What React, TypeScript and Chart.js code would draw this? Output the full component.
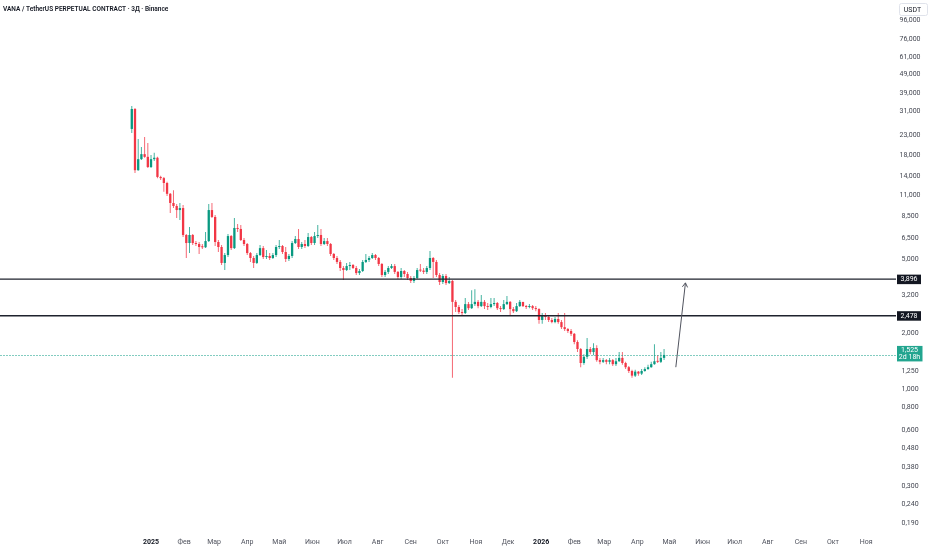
import { useEffect, useRef } from "react";
import { Chart, registerables } from "chart.js";

Chart.register(...registerables);

const FONT = 'Roboto, "Liberation Sans", Arial, sans-serif';

// ---------- data ----------
const titleText = "VANA / TetherUS PERPETUAL CONTRACT · 3Д · Binance";
const currencyLabel = "USDT";

// candle dates: days from 2025-01-01, one 3-day candle per step
const firstDay = -18;
const candleStep = 3;
const firstOpen = 25.0;

const closes = [
  32.0, 15.0, 17.2, 18.3, 17.7, 15.6, 17.2, 17.5, 13.8, 13.6,
  12.8, 11.2, 10.0, 9.63, 9.16, 9.39, 6.73, 6.09, 6.73, 6.09,
  6.02, 5.80, 5.78, 6.24, 9.16, 8.41, 6.17, 5.80, 4.76, 5.25,
  6.64, 5.72, 7.34, 7.25, 6.32, 6.02, 5.38, 5.06, 4.76, 5.25,
  5.72, 5.12, 5.19, 5.06, 5.25, 5.80, 5.87, 5.45, 5.00, 5.19,
  6.09, 6.40, 5.80, 6.02, 5.87, 6.56, 6.09, 6.64, 6.73, 6.02,
  6.24, 6.02, 5.32, 5.06, 4.82, 4.47, 4.36, 4.58, 4.64, 4.47,
  4.20, 4.31, 4.82, 4.94, 5.06, 5.25, 5.06, 4.70, 4.10, 4.26,
  4.47, 4.58, 4.26, 4.00, 4.31, 4.15, 3.95, 3.81, 3.95, 4.36,
  4.33, 4.26, 4.47, 5.06, 4.82, 4.10, 3.76, 4.05, 3.71, 3.81,
  2.94, 2.76, 2.59, 2.56, 2.86, 2.72, 2.86, 2.94, 2.79, 2.94,
  2.79, 2.76, 2.86, 2.90, 2.72, 2.69, 2.86, 2.94, 2.69, 2.62,
  2.79, 2.94, 2.79, 2.76, 2.79, 2.72, 2.69, 2.35, 2.50, 2.44,
  2.35, 2.29, 2.38, 2.29, 2.15, 2.10, 2.05, 1.98, 1.79, 1.64,
  1.38, 1.49, 1.64, 1.58, 1.66, 1.43, 1.40, 1.43, 1.40, 1.43,
  1.36, 1.41, 1.47, 1.38, 1.31, 1.25, 1.18, 1.24, 1.21, 1.25,
  1.28, 1.31, 1.36, 1.41, 1.40, 1.47, 1.525,
];

const highs = [
  33.2, 32.4, 22.1, 20.0, 22.6, 21.0, 18.1, 18.6, 17.7, 14.0,
  13.8, 13.0, 11.3, 11.7, 9.87, 10.0, 9.75, 6.81, 7.43, 6.81,
  6.24, 6.17, 6.02, 6.98, 9.87, 10.0, 8.62, 6.32, 5.94, 5.38,
  6.81, 6.73, 8.31, 7.70, 7.61, 6.48, 6.09, 5.45, 5.19, 5.38,
  5.94, 5.87, 5.59, 5.38, 5.38, 5.94, 6.32, 5.94, 5.80, 5.32,
  6.24, 6.64, 7.25, 6.17, 6.32, 6.90, 6.64, 6.98, 7.61, 7.25,
  6.48, 6.48, 6.09, 5.38, 5.19, 4.94, 4.58, 4.76, 4.82, 4.70,
  4.58, 4.42, 4.94, 5.32, 5.19, 5.38, 5.32, 5.12, 4.76, 4.36,
  4.58, 4.70, 4.70, 4.31, 4.47, 4.36, 4.26, 4.05, 4.05, 4.47,
  4.70, 4.47, 4.58, 5.52, 5.12, 4.94, 4.20, 4.15, 4.15, 4.00,
  3.85, 3.01, 2.83, 2.69, 3.08, 2.94, 3.40, 3.44, 3.01, 3.20,
  3.01, 2.90, 3.08, 3.08, 2.94, 2.79, 3.01, 3.16, 2.97, 2.76,
  2.90, 3.01, 2.94, 2.83, 2.86, 2.83, 2.79, 2.72, 2.56, 2.56,
  2.47, 2.41, 2.44, 2.56, 2.35, 2.56, 2.13, 2.10, 2.00, 1.83,
  1.66, 1.54, 1.88, 1.68, 1.76, 1.72, 1.47, 1.47, 1.45, 1.47,
  1.45, 1.47, 1.58, 1.58, 1.40, 1.33, 1.27, 1.27, 1.25, 1.28,
  1.31, 1.35, 1.40, 1.74, 1.52, 1.58, 1.64,
];

const lows = [
  23.8, 14.5, 14.9, 17.0, 17.5, 15.4, 15.4, 16.8, 13.6, 13.3,
  11.5, 10.9, 8.83, 9.39, 8.31, 8.10, 6.56, 5.06, 5.38, 5.94,
  5.87, 5.32, 5.65, 5.72, 6.17, 8.31, 5.87, 5.45, 4.64, 4.36,
  5.12, 5.59, 5.65, 6.98, 6.24, 5.87, 5.25, 4.82, 4.47, 4.70,
  5.19, 5.00, 5.00, 4.94, 5.00, 5.12, 5.65, 5.32, 4.82, 4.88,
  5.06, 6.02, 5.65, 5.65, 5.72, 5.80, 5.94, 5.94, 6.48, 5.87,
  5.94, 5.87, 5.19, 4.94, 4.70, 4.31, 3.85, 4.31, 4.36, 4.42,
  4.10, 4.10, 4.26, 4.76, 4.82, 5.00, 4.94, 4.58, 4.00, 4.00,
  4.15, 4.42, 4.15, 3.90, 3.90, 4.00, 3.85, 3.71, 3.71, 3.90,
  4.26, 4.15, 4.15, 4.36, 3.95, 4.00, 3.62, 3.67, 3.62, 3.67,
  1.15, 2.59, 2.53, 2.50, 2.53, 2.66, 2.69, 2.79, 2.72, 2.76,
  2.69, 2.66, 2.72, 2.79, 2.66, 2.59, 2.66, 2.83, 2.47, 2.56,
  2.59, 2.76, 2.76, 2.69, 2.72, 2.66, 2.62, 2.24, 2.24, 2.35,
  2.29, 2.26, 2.26, 2.24, 2.10, 2.05, 2.00, 1.93, 1.74, 1.58,
  1.31, 1.35, 1.45, 1.54, 1.52, 1.40, 1.36, 1.38, 1.36, 1.36,
  1.33, 1.33, 1.40, 1.35, 1.28, 1.22, 1.15, 1.16, 1.18, 1.19,
  1.24, 1.27, 1.30, 1.35, 1.38, 1.38, 1.43,
];

// x-axis: month starts (days from 2025-01-01)
const monthDays = [0, 31, 59, 90, 120, 151, 181, 212, 243, 273, 304, 334, 365, 396, 424, 455, 485, 516, 546, 577, 608, 638, 669];
const monthLabels = ["2025", "Фев", "Мар", "Апр", "Май", "Июн", "Июл", "Авг", "Сен", "Окт", "Ноя", "Дек", "2026", "Фев", "Мар", "Апр", "Май", "Июн", "Июл", "Авг", "Сен", "Окт", "Ноя"];
const yearLabels = ["2025", "2026"];

// y-axis ticks (log scale)
const priceTicks = [96, 76, 61, 49, 39, 31, 23, 18, 14, 11, 8.5, 6.5, 5, 3.2, 2, 1.6, 1.25, 1, 0.8, 0.6, 0.48, 0.38, 0.3, 0.24, 0.19];

// horizontal levels, last price, projection arrow
const levelLines = [3.896, 2.478];
const lastPrice = 1.525;
const countdownText = "2d 18h";
const arrowFrom = { day: 491, price: 1.31 };
const arrowTo = { day: 500, price: 3.72 };

// visible range
const xMin = -141.3;
const xMax = 697;
const yMin = 0.1704;
const yMax = 123.3;

const UP = "#089981";
const DOWN = "#F23645";
const UP_WICK = "rgba(8,153,129,0.75)";
const DOWN_WICK = "rgba(242,54,69,0.75)";

const fmt = (v: number) => v.toFixed(3).replace(".", ",");

export default function App() {
  const ref = useRef<HTMLCanvasElement | null>(null);

  useEffect(() => {
    if (!ref.current) return;
    Chart.defaults.font.family = FONT;

    const candles = closes.map((c, i) => {
      const o = i === 0 ? firstOpen : closes[i - 1];
      return {
        day: firstDay + i * candleStep,
        o,
        c,
        h: Math.max(highs[i], o, c),
        l: Math.min(lows[i], o, c),
      };
    });

    const overlay = {
      id: "overlay",
      afterDatasetsDraw(chart: any) {
        const { ctx, chartArea: a, scales } = chart;
        const ys = scales.y;
        const xs = scales.x;
        ctx.save();
        ctx.beginPath();
        ctx.rect(a.left, a.top, a.right - a.left, a.bottom - a.top);
        ctx.clip();

        // last price dotted line
        const py = ys.getPixelForValue(lastPrice);
        ctx.strokeStyle = "rgba(8,153,129,0.5)";
        ctx.lineWidth = 1;
        ctx.setLineDash([2, 1]);
        ctx.beginPath();
        ctx.moveTo(a.left, Math.round(py) + 0.5);
        ctx.lineTo(a.right, Math.round(py) + 0.5);
        ctx.stroke();
        ctx.setLineDash([]);

        // level lines
        ctx.strokeStyle = "#1e222d";
        ctx.lineWidth = 1.4;
        for (const lv of levelLines) {
          const ly = ys.getPixelForValue(lv);
          ctx.beginPath();
          ctx.moveTo(a.left, ly);
          ctx.lineTo(a.right, ly);
          ctx.stroke();
        }

        // arrow
        const x1 = xs.getPixelForValue(arrowFrom.day);
        const y1 = ys.getPixelForValue(arrowFrom.price);
        const x2 = xs.getPixelForValue(arrowTo.day);
        const y2 = ys.getPixelForValue(arrowTo.price);
        ctx.strokeStyle = "#50535e";
        ctx.lineWidth = 1;
        ctx.beginPath();
        ctx.moveTo(x1, y1);
        ctx.lineTo(x2, y2);
        ctx.stroke();
        const ang = Math.atan2(y2 - y1, x2 - x1);
        const len = 5;
        ctx.beginPath();
        ctx.moveTo(x2 - len * Math.cos(ang - 0.55), y2 - len * Math.sin(ang - 0.55));
        ctx.lineTo(x2, y2);
        ctx.lineTo(x2 - len * Math.cos(ang + 0.55), y2 - len * Math.sin(ang + 0.55));
        ctx.stroke();
        ctx.restore();
      },
      afterDraw(chart: any) {
        const { ctx, chartArea: a, scales } = chart;
        const ys = scales.y;
        ctx.save();
        ctx.textBaseline = "middle";

        // level labels on the price axis
        ctx.font = `7px ${FONT}`;
        ctx.textAlign = "center";
        for (const lv of levelLines) {
          const ly = ys.getPixelForValue(lv);
          ctx.fillStyle = "#131722";
          ctx.fillRect(a.right + 1, ly - 4.5, 24, 9.5);
          ctx.fillStyle = "#ffffff";
          ctx.fillText(fmt(lv), a.right + 13, ly + 0.3);
        }

        // last price label with countdown
        const py = ys.getPixelForValue(lastPrice);
        ctx.fillStyle = "#22a58f";
        ctx.fillRect(a.right + 1, py - 9, 25.5, 15.5);
        ctx.fillStyle = "#ffffff";
        ctx.fillText(fmt(lastPrice), a.right + 13.5, py - 4.6);
        ctx.fillText(countdownText, a.right + 13.5, py + 2.6);

        // currency box
        ctx.fillStyle = "#ffffff";
        ctx.strokeStyle = "#e0e3eb";
        ctx.lineWidth = 1;
        ctx.beginPath();
        ctx.roundRect(899.5, 3.5, 28, 12, 2);
        ctx.fill();
        ctx.stroke();
        ctx.fillStyle = "#131722";
        ctx.font = `7px ${FONT}`;
        ctx.fillText(currencyLabel, 912.5, 10);

        // title
        ctx.textAlign = "left";
        ctx.font = `600 6.5px ${FONT}`;
        ctx.fillStyle = "#131722";
        ctx.fillText(titleText, 3, 9.5);
        ctx.restore();
      },
    };

    const chart = new Chart(ref.current, {
      type: "bar",
      data: {
        datasets: [
          {
            label: "body",
            data: candles.map((k) => ({ x: k.day, y: [k.o, k.c] })) as any,
            backgroundColor: candles.map((k) => (k.c >= k.o ? UP : DOWN)),
            borderWidth: 0,
            grouped: false,
            barPercentage: 0.9,
            categoryPercentage: 1,
            maxBarThickness: 2.3,
            minBarLength: 1,
            order: 1,
          } as any,
          {
            label: "wick",
            data: candles.map((k) => ({ x: k.day, y: [k.l, k.h] })) as any,
            backgroundColor: candles.map((k) => (k.c >= k.o ? UP_WICK : DOWN_WICK)),
            borderWidth: 0,
            grouped: false,
            barPercentage: 0.9,
            categoryPercentage: 1,
            maxBarThickness: 1,
            order: 2,
          } as any,
        ],
      },
      options: {
        animation: false,
        responsive: false,
        events: [],
        layout: { padding: 0 },
        plugins: {
          legend: { display: false },
          tooltip: { enabled: false },
        },
        scales: {
          x: {
            type: "linear",
            min: xMin,
            max: xMax,
            bounds: "data",
            offset: false,
            grid: { display: false, drawTicks: false },
            border: { display: false },
            afterBuildTicks: (s: any) => {
              s.ticks = monthDays.map((v) => ({ value: v }));
            },
            afterFit: (s: any) => {
              s.height = 18;
              s.paddingLeft = 0;
              s.paddingRight = 0;
            },
            ticks: {
              autoSkip: false,
              maxRotation: 0,
              minRotation: 0,
              padding: 6,
              callback: (_v: any, i: number) => monthLabels[i],
              font: (ctx: any) => ({
                family: FONT,
                size: 7,
                weight: yearLabels.includes(monthLabels[ctx.index]) ? "bold" : "normal",
              }),
              color: (ctx: any) => (yearLabels.includes(monthLabels[ctx.index]) ? "#131722" : "#50535e"),
            },
          } as any,
          y: {
            type: "logarithmic",
            position: "right",
            min: yMin,
            max: yMax,
            bounds: "data",
            grid: { display: false, drawTicks: false },
            border: { display: false },
            afterBuildTicks: (s: any) => {
              s.ticks = priceTicks.map((v) => ({ value: v }));
            },
            afterFit: (s: any) => {
              s.width = 36;
              s.paddingTop = 0;
              s.paddingBottom = 0;
            },
            ticks: {
              autoSkip: false,
              padding: 3.5,
              crossAlign: "center",
              callback: (v: any) => fmt(Number(v)),
              font: { family: FONT, size: 7 },
              color: "#434651",
            },
          } as any,
        },
      },
      plugins: [overlay as any],
    });

    return () => chart.destroy();
  }, []);

  return (
    <div style={{ position: "fixed", left: 0, top: 0, width: 932, height: 550, background: "#ffffff" }}>
      <canvas ref={ref} width={932} height={550} style={{ display: "block", width: 932, height: 550 }} />
    </div>
  );
}
